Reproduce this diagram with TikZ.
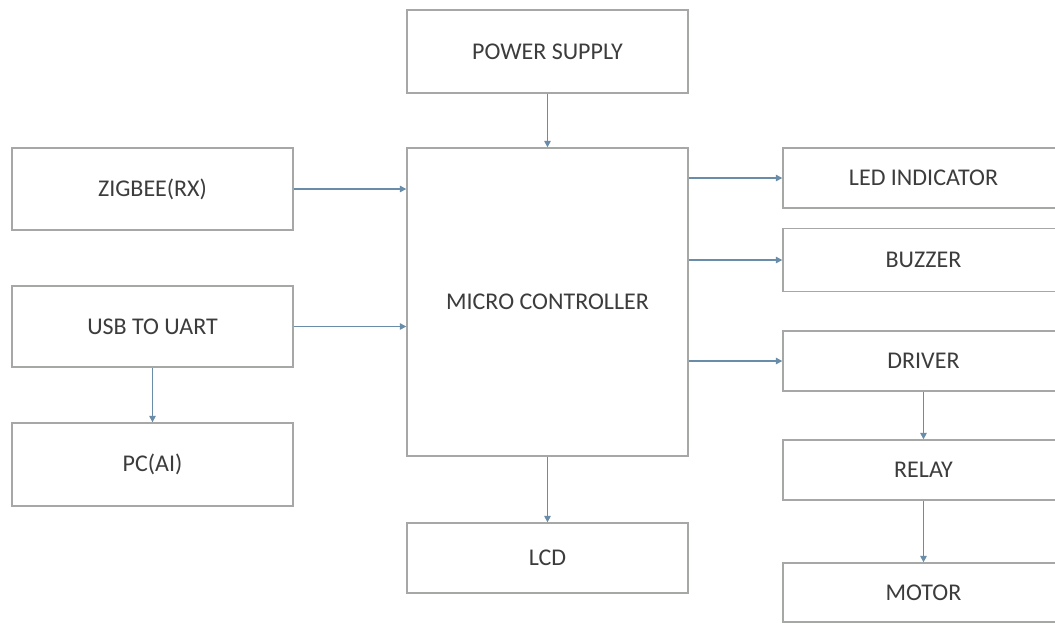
\documentclass[tikz,border=0pt]{standalone}
\usepackage{fontspec}
\setmainfont{Carlito}
\usetikzlibrary{arrows.meta,positioning}
\definecolor{BoxGray}{RGB}{165,168,165}
\definecolor{LinkBlue}{RGB}{105,140,168}
\definecolor{TextGray}{RGB}{60,60,60}

\begin{document}
\begin{tikzpicture}[x=0.5pt,y=-0.5pt,>={Triangle[length=3.2pt,width=3.2pt]},
    block/.style={draw=BoxGray,line width=0.7pt,minimum width=140.5pt,
      text=TextGray,font=\fontsize{12}{14}\selectfont,inner sep=0pt},
    link/.style={->,LinkBlue,line width=0.7pt}]
      \clip (0,0) rectangle (1055,623);
      \fill[white] (0,0) rectangle (1055,623);
      % middle column
      \node[block,minimum height=41.5pt] (power) at (547.5,51.5) {POWER SUPPLY};
      \node[block,minimum height=154pt] (micro) at (547.5,302) {MICRO CONTROLLER};
      \node[block,minimum height=35pt] (lcd) at (547.5,558) {LCD};
      % left column
      \node[block,minimum height=41pt] (zigbee) at (152.5,189) {ZIGBEE(RX)};
      \node[block,minimum height=40.5pt] (usb) at (152.5,326.5) {USB TO UART};
      \node[block,minimum height=41.5pt] (pc) at (152.5,464.5) {PC(AI)};
      % right column
      \node[block,minimum height=30pt] (led) at (923.5,178) {LED INDICATOR};
      \node[block,minimum height=31.5pt] (buzzer) at (923.5,260) {BUZZER};
      \node[block,minimum height=30pt] (driver) at (923.5,361) {DRIVER};
      \node[block,minimum height=30pt] (relay) at (923.5,470) {RELAY};
      \node[block,minimum height=29.5pt] (motor) at (923.5,592.5) {MOTOR};
      % connections
      \draw[link] (power) -- (micro);
      \draw[link] (micro) -- (lcd);
      \draw[link] (zigbee) -- (zigbee -| micro.west);
      \draw[link] (usb) -- (usb -| micro.west);
      \draw[link] (usb) -- (pc);
      \draw[link] (micro.east |- led) -- (led);
      \draw[link] (micro.east |- buzzer) -- (buzzer);
      \draw[link] (micro.east |- driver) -- (driver);
      \draw[link] (driver) -- (relay);
      \draw[link] (relay) -- (motor);
    \end{tikzpicture}
\end{document}
